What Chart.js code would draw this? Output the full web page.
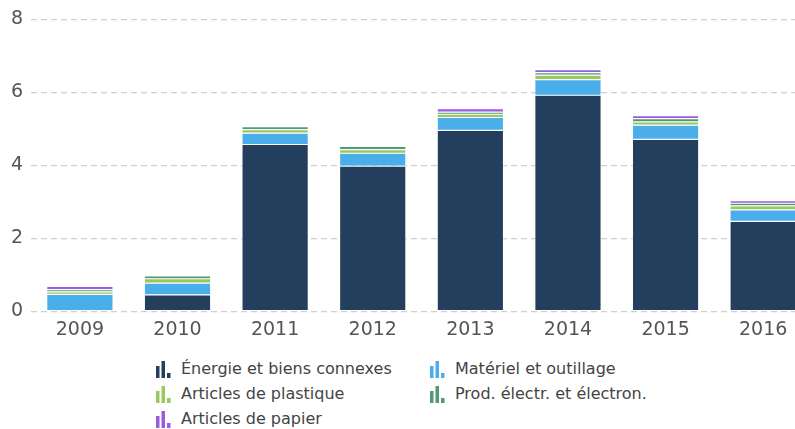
<!DOCTYPE html>
<html>
<head>
<meta charset="utf-8">
<script src="https://cdn.jsdelivr.net/npm/chart.js@4/dist/chart.umd.min.js"></script>
<style>
  html, body { margin:0; padding:0; background:#fff; overflow:hidden; width:795px; height:429px; }
  #wrap { position:absolute; left:0; top:0; width:812px; height:348px; }
  #legend { position:absolute; left:156px; top:359px; width:580px; font-family:"DejaVu Sans", sans-serif; font-size:16px; color:#444; }
  .item { position:absolute; display:flex; align-items:center; white-space:nowrap; }
  .item svg { margin-right:10px; }
</style>
</head>
<body>
<div id="wrap"><canvas id="c"></canvas></div>
<div id="legend"></div>
<script>
const categories = ["2009","2010","2011","2012","2013","2014","2015","2016"];
const seriesNames = ["Énergie et biens connexes","Matériel et outillage","Articles de plastique","Prod. électr. et électron.","Articles de papier"];
const energie   = [0.00, 0.45, 4.57, 3.98, 4.96, 5.92, 4.71, 2.46];
const materiel  = [0.46, 0.32, 0.31, 0.35, 0.35, 0.43, 0.39, 0.32];
const plastique = [0.07, 0.12, 0.10, 0.10, 0.09, 0.12, 0.09, 0.11];
const electr    = [0.06, 0.08, 0.08, 0.09, 0.06, 0.07, 0.09, 0.07];
const papier    = [0.09, 0.01, 0.02, 0.01, 0.09, 0.08, 0.08, 0.07];
const yTicks = [0, 2, 4, 6, 8];
const colors = ["#243f5e", "#4aaeea", "#9cc65f", "#4e9a72", "#9a5be3"];
const values = [energie, materiel, plastique, electr, papier];

const datasets = values.map((v, i) => ({
  label: seriesNames[i],
  data: v,
  backgroundColor: colors[i],
  borderColor: "rgba(255,255,255,0.8)",
  borderWidth: 0.6,
  borderSkipped: false,
  categoryPercentage: 1,
  barPercentage: 0.68
}));

new Chart(document.getElementById("c"), {
  type: "bar",
  data: { labels: categories, datasets },
  options: {
    responsive: true,
    maintainAspectRatio: false,
    animation: false,
    layout: { padding: { top: 7, left: 3, right: 0, bottom: 0 } },
    plugins: { legend: { display: false }, tooltip: { enabled: false } },
    scales: {
      x: {
        stacked: true,
        grid: { display: false, drawTicks: false },
        border: { display: false },
        ticks: { color: "#555", font: { family: "DejaVu Sans", size: 19 }, padding: 7 }
      },
      y: {
        stacked: true,
        min: 0, max: 8,
        afterBuildTicks: (axis) => { axis.ticks = yTicks.map(v => ({ value: v })); },
        grid: { color: "#d0d0d0", lineWidth: 1.2, drawTicks: false },
        border: { display: false, dash: [6, 4] },
        ticks: { color: "#555", font: { family: "DejaVu Sans", size: 19 }, padding: 8 }
      }
    }
  }
});

// HTML legend (two columns)
const leg = document.getElementById("legend");
seriesNames.forEach((name, i) => {
  const col = i % 2, row = Math.floor(i / 2);
  const d = document.createElement("div");
  d.className = "item";
  d.style.left = (col === 0 ? 0 : 274) + "px";
  d.style.top = (row * 25) + "px";
  const c = colors[i];
  d.innerHTML = '<svg width="15" height="18" viewBox="0 0 15 18">' +
    '<rect x="0" y="6" width="3.5" height="12" fill="' + c + '"/>' +
    '<rect x="5.5" y="1" width="3.5" height="17" fill="' + c + '"/>' +
    '<rect x="11" y="13" width="3.5" height="5" fill="' + c + '"/></svg>';
  const s = document.createElement("span");
  s.textContent = name;
  d.appendChild(s);
  leg.appendChild(d);
});
</script>
</body>
</html>
